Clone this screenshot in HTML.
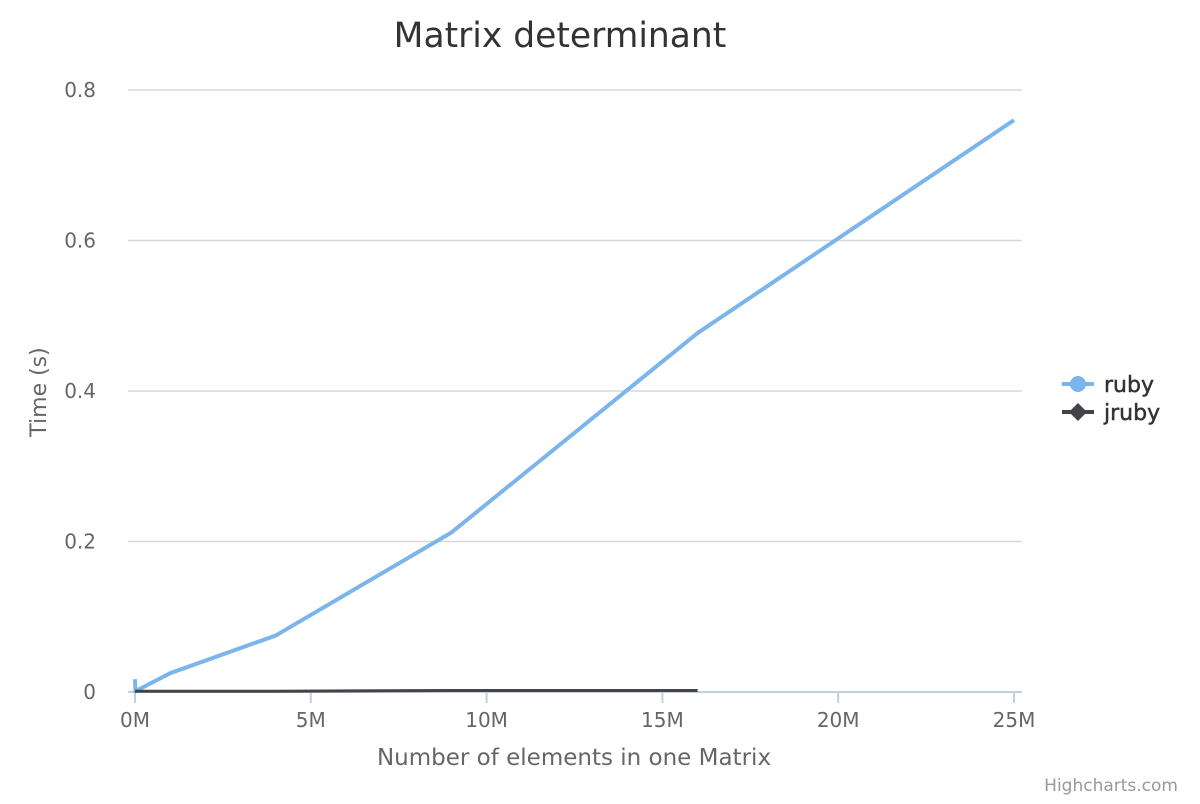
<!DOCTYPE html>
<html><head><meta charset="utf-8"><style>
body{margin:0;background:#fff;font-family:"DejaVu Sans","Liberation Sans",sans-serif}
</style></head><body>
<svg id="chart" width="1200" height="800" xmlns="http://www.w3.org/2000/svg" font-family="DejaVu Sans, Liberation Sans, sans-serif">
<text x="560" y="47" text-anchor="middle" font-size="34.5" fill="#333">Matrix determinant</text>
<g id="grid"></g><g id="series"></g>
<text transform="translate(46,392) rotate(-90)" text-anchor="middle" font-size="22" fill="#666">Time (s)</text>
<text x="574" y="765" text-anchor="middle" font-size="23" fill="#666">Number of elements in one Matrix</text>
<g>
<g>
<line x1="1062" y1="384" x2="1094" y2="384" stroke="#7cb5ec" stroke-width="4"/><circle cx="1078" cy="384" r="8" fill="#7cb5ec"/>
<text x="1104" y="392" font-size="22" fill="#333" stroke="#333" stroke-width="0.5">ruby</text></g>
<g>
<line x1="1062" y1="412" x2="1094" y2="412" stroke="#434348" stroke-width="4"/><path d="M1078 403 L1087 412 L1078 421 L1069 412Z" fill="#434348"/>
<text x="1104" y="420" font-size="22" fill="#333" stroke="#333" stroke-width="0.5">jruby</text></g>
</g>
<text x="1178" y="791" text-anchor="end" font-size="17" fill="#999">Highcharts.com</text>
</svg>
<script>
const xValues = [0.0001, 0.01, 1, 4, 9, 16, 25];
const rubyValues = [0.017, 0.001, 0.025, 0.075, 0.212, 0.477, 0.76];
const jrubyX = [0.0001, 0.01, 1, 4, 9, 16];
const jrubyValues = [0.001, 0.001, 0.001, 0.001, 0.002, 0.002];
const yTicks = [0, 0.2, 0.4, 0.6, 0.8];
const xTicks = [0, 5, 10, 15, 20, 25];
const X0=135,X1=1014,Y0=692,Y1=90;
const xs=v=>X0+(v/25)*(X1-X0), ys=v=>Y0-(v/0.8)*(Y0-Y1);
const NS="http://www.w3.org/2000/svg";
const grid=document.getElementById('grid'), ser=document.getElementById('series');
function mk(t,a,p){const e=document.createElementNS(NS,t);for(const k in a)e.setAttribute(k,a[k]);p.appendChild(e);return e;}
yTicks.forEach(t=>{
  const y=ys(t);
  if(t>0){const l=mk('line',{x1:128,x2:1022,y1:y,y2:y,stroke:'#d8d8d8','stroke-width':1.5},grid);
  
  }
  const tx=mk('text',{x:96,y:y+7,'text-anchor':'end','font-size':20,fill:'#666'},grid);tx.textContent=t;
  
  
});
const ax=mk('line',{x1:128,x2:1022,y1:Y0,y2:Y0,stroke:'#c0d0e0','stroke-width':2},grid);


xTicks.forEach(t=>{
  const x=xs(t);
  const l=mk('line',{x1:x,x2:x,y1:Y0,y2:Y0+11,stroke:'#c0d0e0','stroke-width':2},grid);
  
  
  const tx=mk('text',{x:x,y:727,'text-anchor':'middle','font-size':20,fill:'#666'},grid);tx.textContent=t+'M';
  
  
});
const p1=mk('polyline',{points:xValues.map((x,i)=>xs(x)+','+ys(rubyValues[i])).join(' '),fill:'none',stroke:'#7cb5ec','stroke-width':4,'stroke-linejoin':'round'},ser);


const p2=mk('polyline',{points:jrubyX.map((x,i)=>xs(x)+','+ys(jrubyValues[i])).join(' '),fill:'none',stroke:'#434348','stroke-width':3,'stroke-linejoin':'round'},ser);


</script>
</body></html>
